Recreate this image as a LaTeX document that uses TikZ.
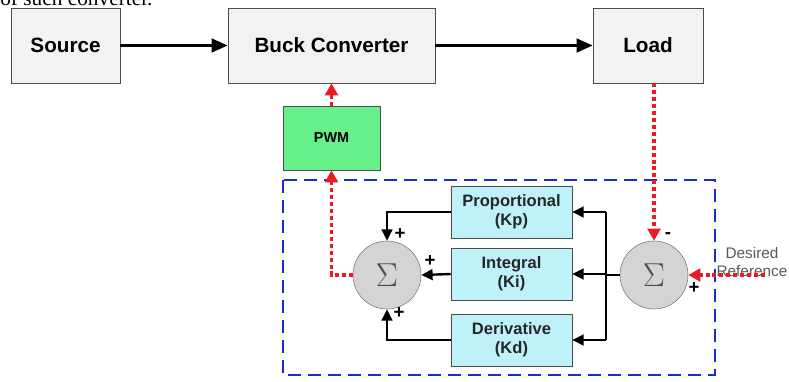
\documentclass[tikz,border=0pt]{standalone}
\usepackage{fontspec}
\setmainfont{Liberation Sans}
\newfontfamily\captionserif{Liberation Serif}
\usetikzlibrary{arrows.meta,shadows}

\definecolor{boxgray}{RGB}{242,242,242}
\definecolor{pwmgreen}{RGB}{102,240,138}
\definecolor{pidcyan}{RGB}{190,242,248}
\definecolor{sumgray}{RGB}{212,212,212}
\definecolor{loopblue}{RGB}{25,45,200}
\definecolor{fbred}{RGB}{232,28,36}

\begin{document}
\begin{tikzpicture}[
		x=0.75pt, y=-0.75pt,
		block/.style={rectangle, draw=black!70, fill=boxgray, minimum height=56.25pt,
			font=\bfseries\fontsize{15.5}{18}\selectfont,
			drop shadow={shadow xshift=1pt, shadow yshift=-1pt, opacity=0.25}},
		pid/.style={rectangle, draw=black!70, fill=pidcyan, align=center, text=black!85,
			minimum width=90.75pt, minimum height=39pt, font=\bfseries\fontsize{12.4}{14.5}\selectfont},
		sum/.style={circle, draw=black!55, fill=sumgray, minimum size=51pt, inner sep=0pt,
			text=black!70, font=\fontsize{27}{27}\selectfont},
		sign/.style={font=\bfseries\fontsize{14}{14}\selectfont, inner sep=0pt},
		power/.style={line width=2.4pt, -{Triangle[length=12pt, width=10pt]}},
		signal/.style={line width=1.8pt},
		gain/.style={signal, -{Triangle[length=8.5pt, width=8pt]}},
		feedback/.style={fbred, line width=2.4pt, dash pattern=on 3pt off 2.2pt,
			-{Triangle[length=9pt, width=9.5pt]}},
		loopbox/.style={loopblue, line width=2.2pt, dash pattern=on 10pt off 5pt}
		]
		\useasboundingbox (0,0) rectangle (789,382);

		% cut caption line from the page above
		\node[anchor=base west, inner sep=0pt, font=\captionserif\fontsize{16}{18}\selectfont] (caption) at (0,6) {of such converter.};

		% power stage
		\node[block, minimum width=81.75pt] (source) at (65.5,45.5) {Source};
		\node[block, minimum width=155.25pt] (buck) at (331.5,45.5) {Buck Converter};
		\node[block, minimum width=82.5pt] (load) at (648,45.5) {Load};
		\node[rectangle, draw=black!70, fill=pwmgreen, minimum width=72.75pt, minimum height=48pt,
			font=\bfseries\fontsize{10.8}{13}\selectfont] (pwm) at (331.5,138) {PWM};

		% controller
		\draw[loopbox] (283,180) rectangle (715,375);
		\node[pid] (kp) at (511.5,212) {Proportional\\(Kp)};
		\node[pid] (ki) at (511.5,274) {Integral\\(Ki)};
		\node[pid] (kd) at (511.5,340) {Derivative\\(Kd)};
		\node[sum] (sum1) at (387,275) {$\Sigma$};
		\node[sum] (sum2) at (654,275) {$\Sigma$};
		\node[align=center, text=black!65, font=\fontsize{11.5}{13}\selectfont] (desired) at (752,262) {Desired\\Reference};
		\coordinate (ref) at (765,275);
		\coordinate (split) at (606,275);

		\draw[power] (source) -- (buck);
		\draw[power] (buck) -- (load);

		\draw[signal] (sum2.west) -- (split);
		\draw[signal] (split |- kp.east) -- (split |- kd.east);
		\foreach \g in {kp,ki,kd}
			\draw[gain] (split |- \g.east) -- (\g.east);
		\draw[gain] (kp.west) -| (sum1.north);
		\draw[gain] (ki.west) -- (sum1.east);
		\draw[gain] (kd.west) -| (sum1.south);

		\draw[feedback] (sum2.north |- load.south) -- (sum2.north);
		\draw[feedback] (ref) -- (sum2.east);
		\draw[feedback] (sum1.west) -| (pwm.south);
		\draw[feedback] (pwm.north) -- (buck.south);

		\node[sign] (p1) at (400,234) {+};
		\node[sign] (p2) at (430,261) {+};
		\node[sign] (p3) at (399,313) {+};
		\node[sign] (m1) at (668,236) {-};
		\node[sign] (p4) at (694,288) {+};
	\end{tikzpicture}
\end{document}
